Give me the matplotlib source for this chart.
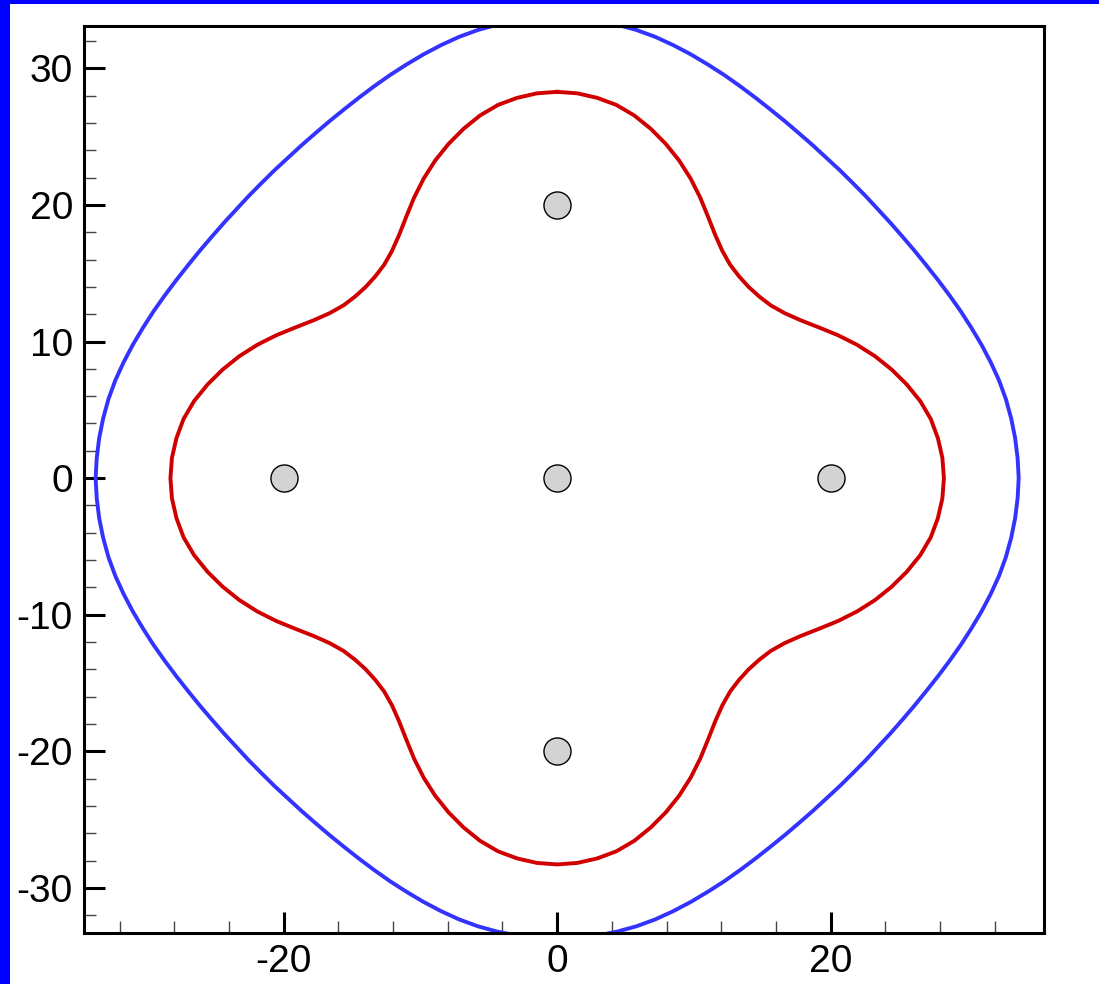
"""
五个点源周围的两条等值线 (Tecplot 风格)
"""

import numpy as np
from matplotlib import pyplot as plt
from matplotlib.patches import Rectangle
from matplotlib.ticker import MultipleLocator

# 第一象限内读取的曲线点 (从 y 轴顶部顺时针到 x 轴)
red_x = [0.0, 1.48, 2.93, 4.33, 5.64, 6.85, 7.95, 8.92, 9.76, 10.46, 11.04,
         11.56, 12.08, 12.65, 13.30, 14.00, 14.77, 15.62, 16.63, 17.80, 19.12,
         20.54, 21.93, 23.25, 24.46, 25.57, 26.55, 27.32, 27.84, 28.17, 28.28]
red_y = [28.28, 28.17, 27.84, 27.32, 26.55, 25.57, 24.46, 23.25, 21.93, 20.54, 19.12,
         17.80, 16.63, 15.62, 14.77, 14.00, 13.30, 12.65, 12.08, 11.56, 11.04,
         10.46, 9.76, 8.92, 7.95, 6.85, 5.64, 4.33, 2.93, 1.48, 0.0]

blue_x = [0.0, 1.47, 2.93, 4.37, 5.79, 7.16, 8.49, 9.78, 11.02, 12.22, 13.38,
          14.50, 15.59, 16.65, 17.68, 18.70, 19.68, 20.66, 21.61,
          22.55, 23.46, 24.36, 25.25, 26.13, 26.99, 27.85, 28.69, 29.51,
          30.28, 31.02, 31.70, 32.31, 32.81, 33.20, 33.49, 33.67, 33.75]
blue_y = [33.75, 33.67, 33.49, 33.20, 32.81, 32.31, 31.70, 31.02, 30.28, 29.51, 28.69,
          27.85, 26.99, 26.13, 25.25, 24.36, 23.46, 22.55, 21.61,
          20.66, 19.68, 18.70, 17.68, 16.65, 15.59, 14.50, 13.38, 12.22,
          11.02, 9.78, 8.49, 7.16, 5.79, 4.37, 2.93, 1.47, 0.0]

# 点源位置
site_x = [0, 20, -20, 0, 0]
site_y = [0, 0, 0, 20, -20]


def close_curve(qx, qy):
    """把第一象限的点按四个象限拼成闭合曲线"""
    qx, qy = np.asarray(qx), np.asarray(qy)
    xs = np.concatenate([qx, qx[::-1], -qx, -qx[::-1]])
    ys = np.concatenate([qy, -qy[::-1], -qy, qy[::-1]])
    return xs, ys


plt.rcParams["font.family"] = ["Liberation Sans", "DejaVu Sans"]
plt.rcParams["axes.unicode_minus"] = False

fig = plt.figure(figsize=(10.99, 9.84), dpi=100)
ax = fig.add_axes([84 / 1099, 1 - 933 / 984, 960 / 1099, 907 / 984])

# 左侧和顶部的蓝色边框
fig.patches.append(Rectangle((0, 0), 10 / 1099, 1, transform=fig.transFigure,
                             facecolor="#0000ff", edgecolor="none", zorder=0))
fig.patches.append(Rectangle((0, 1 - 4 / 984), 1, 4 / 984, transform=fig.transFigure,
                             facecolor="#0000ff", edgecolor="none", zorder=0))

bx, by = close_curve(blue_x, blue_y)
rx, ry = close_curve(red_x, red_y)
ax.plot(bx, by, color="#3333ff", linewidth=2.8, solid_joinstyle="round")
ax.plot(rx, ry, color="#d00000", linewidth=2.8, solid_joinstyle="round")

ax.plot(site_x, site_y, linestyle="none", marker="o", markersize=19.5,
        markerfacecolor="#d3d3d3", markeredgecolor="black", markeredgewidth=1.0)

ax.set_xlim(-34.6, 35.6)
ax.set_ylim(-33.3, 33.1)

ax.xaxis.set_major_locator(MultipleLocator(20))
ax.xaxis.set_minor_locator(MultipleLocator(4))
ax.yaxis.set_major_locator(MultipleLocator(10))
ax.yaxis.set_minor_locator(MultipleLocator(2))

ax.tick_params(which="both", direction="in", top=False, right=False)
ax.tick_params(which="major", length=15, width=2.2, labelsize=28, pad=8)
ax.tick_params(which="minor", length=8.6, width=1.0, color="#444444")

for spine in ax.spines.values():
    spine.set_linewidth(2.2)

fig.savefig("out.png", dpi=100, facecolor="white")
